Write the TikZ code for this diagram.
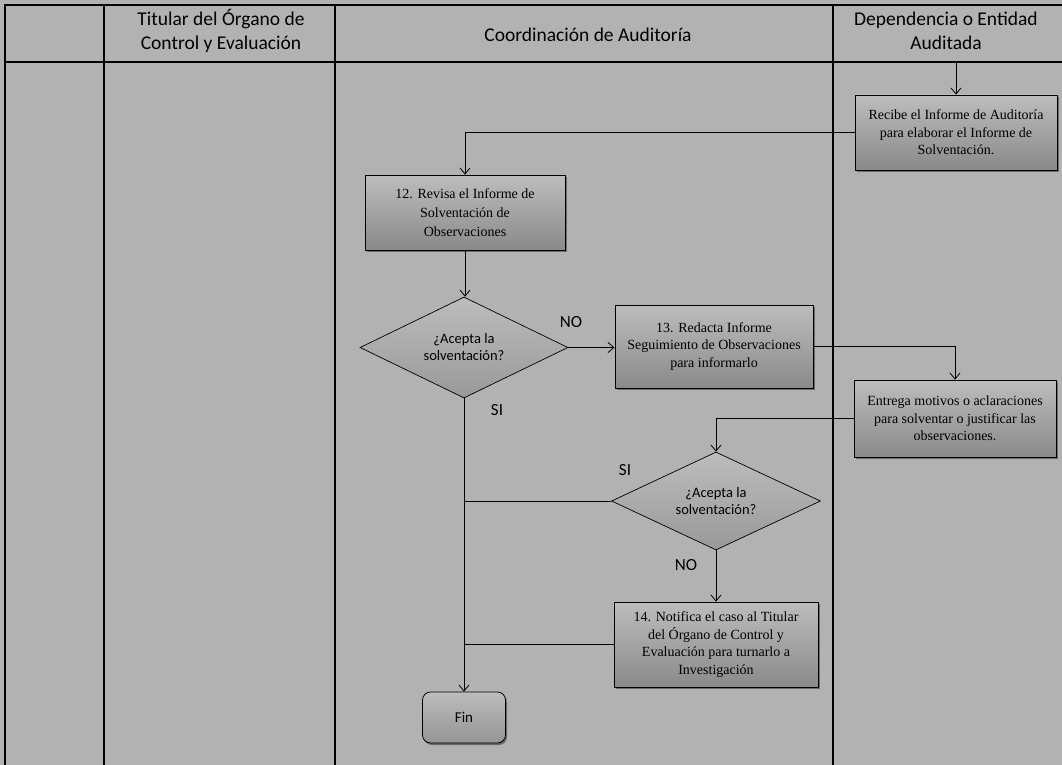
\documentclass[tikz,border=0pt]{standalone}
\usepackage{fontspec}
\setmainfont{Liberation Serif}
\newfontfamily\sansfnt{Carlito}
\usetikzlibrary{shapes.geometric,arrows.meta,shadows}
\begin{document}
\begin{tikzpicture}[x=1pt,y=-1pt,
  lane/.style={line width=1.8pt},
  conn/.style={line width=0.8pt},
  arr/.style={conn,-{Straight Barb[length=6pt,width=10pt]}},
  hdr/.style={align=center,font=\sansfnt\fontsize{19.5}{24}\selectfont},
  proc/.style={draw,line width=0.8pt,top color=black!26,bottom color=black!46,
    align=center,inner sep=2pt,font=\fontsize{14}{17.5}\selectfont,
    drop shadow={shadow xshift=1.5pt,shadow yshift=-2pt,fill=black!65,opacity=0.8}},
  decision/.style={diamond,draw,line width=0.7pt,aspect=2,inner sep=0pt,
    top color=black!26,bottom color=black!40,align=center,
    font=\sansfnt\fontsize{14.5}{17}\selectfont},
  terminal/.style={draw,rounded corners=8pt,line width=0.8pt,top color=black!26,
    bottom color=black!42,font=\sansfnt\fontsize{15}{17}\selectfont,
    drop shadow={shadow xshift=1.5pt,shadow yshift=-2pt,fill=black!65,opacity=0.8}},
  tag/.style={font=\sansfnt\fontsize{17}{19}\selectfont}
]
% page and background
\useasboundingbox (0,0) rectangle (1062,765);
\fill[black!30] (0,0) rectangle (1062,765);

% swimlane grid
\draw[lane] (5,765) -- (5,5) -- (1062,5);
\draw[lane] (5,62) -- (1062,62);
\draw[lane] (104,5) -- (104,765);
\draw[lane] (335,5) -- (335,765);
\draw[lane] (833,5) -- (833,765);

% lane headers
\node[hdr] (h1) at (221,31) {Titular del Órgano de\\Control y Evaluación};
\node[hdr] (h2) at (588,35) {Coordinación de Auditoría};
\node[hdr] (h3) at (946,31) {Dependencia o Entidad\\Auditada};
\coordinate (start) at (956,62);

% process steps
\node[proc,minimum width=202pt,minimum height=75pt] (recibe) at (956,132.5)
  {Recibe el Informe de Auditoría\\para elaborar el Informe de\\Solventación.};
\node[proc,minimum width=200pt,minimum height=75pt,
  font=\fontsize{14}{19}\selectfont] (b12) at (465,212.5)
  {12. Revisa el Informe de\\Solventación de\\Observaciones};
\node[decision,minimum width=208pt,minimum height=101pt] (d1) at (464,347.5)
  {¿Acepta la\\solventación?};
\node[proc,minimum width=198pt,minimum height=83pt] (b13) at (714,346.5)
  {13. Redacta Informe\\Seguimiento de Observaciones\\para informarlo};
\node[proc,minimum width=202pt,minimum height=77pt] (entrega) at (955,418.5)
  {Entrega motivos o aclaraciones\\para solventar o justificar las\\observaciones.};
\node[decision,minimum width=209pt,minimum height=98pt] (d2) at (716,501)
  {¿Acepta la\\solventación?};
\node[proc,minimum width=204pt,minimum height=85pt] (b14) at (716,644.5)
  {14. Notifica el caso al Titular\\del Órgano de Control y\\Evaluación para turnarlo a\\Investigación};
\node[terminal,minimum width=83pt,minimum height=51pt] (fin) at (464,717.5) {Fin};

% connectors
\draw[arr] (start) -- (start |- recibe.north);
\draw[arr] (recibe.west) -| (b12.north);
\draw[arr] (b12.south) -- (b12.south |- d1.north);
\draw[arr] (d1.east) -- (d1.east -| b13.west);
\draw[arr] (b13.east) -| (entrega.north);
\draw[arr] (entrega.west) -| (d2.north);
\draw[arr] (d2.south) -- (b14.north);
\draw[arr] (d1.south) -- (fin.north);
\draw[conn] (d2.west) -- (d1.south |- d2.west);
\draw[conn] (b14.west) -- (d1.south |- b14.west);

% decision labels
\node[tag] (no1) at (571,322) {NO};
\node[tag] (si1) at (497,410) {SI};
\node[tag] (si2) at (625,470) {SI};
\node[tag] (no2) at (686,565) {NO};
\end{tikzpicture}
\end{document}
